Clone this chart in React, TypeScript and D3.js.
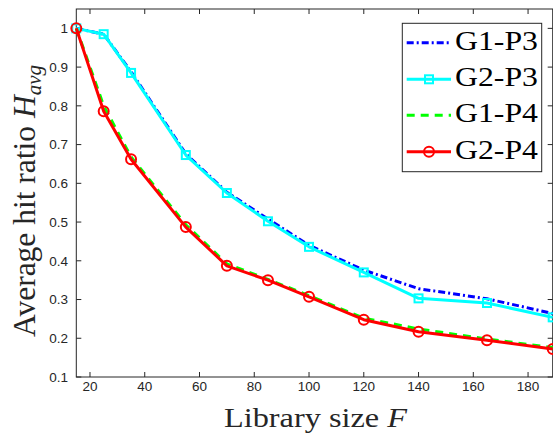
import React from "react";
import * as d3 from "d3";

const librarySize = [15, 25, 35, 55, 70, 85, 100, 120, 140, 165, 189];
const g1p3 = [1, 0.985, 0.888, 0.676, 0.577, 0.508, 0.44, 0.376, 0.328, 0.302, 0.264];
const g2p3 = [1, 0.985, 0.885, 0.673, 0.575, 0.502, 0.436, 0.37, 0.303, 0.291, 0.254];
const g1p4 = [1, 0.8, 0.668, 0.493, 0.392, 0.352, 0.31, 0.252, 0.224, 0.198, 0.176];
const g2p4 = [1, 0.786, 0.662, 0.487, 0.387, 0.35, 0.307, 0.248, 0.217, 0.195, 0.172];
const xTicks = [20, 40, 60, 80, 100, 120, 140, 160, 180];
const yTicks = [0.1, 0.2, 0.3, 0.4, 0.5, 0.6, 0.7, 0.8, 0.9, 1];
const yTickLabels = ["0.1", "0.2", "0.3", "0.4", "0.5", "0.6", "0.7", "0.8", "0.9", "1"];
const seriesNames = ["G1-P3", "G2-P3", "G1-P4", "G2-P4"];

const W = 553, H = 436;
const L = 76.3, R = 552.7, T = 9, B = 377;
const axisColor = "#262626";
const SERIF = "'Liberation Serif', 'Times New Roman', Times, serif";
const SANS = "'Liberation Sans', Arial, Helvetica, sans-serif";

export default function App() {
  const x = d3.scaleLinear().domain([15, 189]).range([L, R]);
  const y = d3.scaleLinear().domain([0.1, 1.05]).range([B, T]);
  const mk = (vals: number[]) =>
    d3.line<number>().x((_, i) => x(librarySize[i])).y((v) => y(v))(vals) || "";

  const series = [
    { name: seriesNames[0], vals: g1p3, color: "#0000ff", dash: "7,3,2,3", marker: "none" },
    { name: seriesNames[1], vals: g2p3, color: "#00ffff", dash: "", marker: "square" },
    { name: seriesNames[2], vals: g1p4, color: "#00ff00", dash: "8,6", marker: "none" },
    { name: seriesNames[3], vals: g2p4, color: "#ff0000", dash: "", marker: "circle" },
  ];

  const marker = (m: string, cx: number, cy: number, color: string, key: string) => {
    if (m === "square")
      return <rect key={key} x={cx - 4} y={cy - 4} width={8} height={8} fill="none" stroke={color} strokeWidth={2} />;
    if (m === "circle")
      return <circle key={key} cx={cx} cy={cy} r={5} fill="none" stroke={color} strokeWidth={2} />;
    return null;
  };

  const legY = [42.7, 79.3, 115.3, 151.7];

  return (
    <svg width={W} height={H} style={{ position: "absolute", left: 0, top: 0, background: "#fff" }}>
      <rect x={0} y={0} width={W} height={H} fill="#fff" />
      <rect x={L} y={T} width={R - L} height={B - T} fill="none" stroke={axisColor} strokeWidth={1} />
      {xTicks.map((t) => (
        <g key={"xt" + t}>
          <line x1={x(t)} x2={x(t)} y1={B} y2={B - 5} stroke={axisColor} />
          <line x1={x(t)} x2={x(t)} y1={T} y2={T + 5} stroke={axisColor} />
          <text x={x(t)} y={390.5} textAnchor="middle" fontFamily={SANS} fontSize={13.5} fill={axisColor}>
            {t}
          </text>
        </g>
      ))}
      {yTicks.map((t, i) => (
        <g key={"yt" + t}>
          <line x1={L} x2={L + 5} y1={y(t)} y2={y(t)} stroke={axisColor} />
          <line x1={R} x2={R - 5} y1={y(t)} y2={y(t)} stroke={axisColor} />
          <text x={68} y={y(t) + 4.8} textAnchor="end" fontFamily={SANS} fontSize={13.5} fill={axisColor}>
            {yTickLabels[i]}
          </text>
        </g>
      ))}
      <g>
        {series.map((s) => (
          <g key={s.name}>
            <path d={mk(s.vals)} fill="none" stroke={s.color} strokeWidth={3} strokeDasharray={s.dash || undefined} strokeLinejoin="round" />
            {s.vals.map((v, i) => marker(s.marker, x(librarySize[i]), y(v), s.color, s.name + i))}
          </g>
        ))}
      </g>
      <rect x={402.3} y={23.3} width={139.4} height={148.4} fill="#fff" stroke={axisColor} strokeWidth={1} />
      {series.map((s, i) => (
        <g key={"leg" + s.name}>
          <line x1={406.7} x2={451} y1={legY[i]} y2={legY[i]} stroke={s.color} strokeWidth={3} strokeDasharray={s.dash || undefined} />
          {marker(s.marker, 429, legY[i], s.color, "lm" + i)}
          <text x={455} y={legY[i] + 7} fontFamily={SERIF} fontSize={28} fill="#000" textLength={83} lengthAdjust="spacingAndGlyphs">
            {s.name}
          </text>
        </g>
      ))}
      <text x={224} y={426.7} fontFamily={SERIF} fontSize={28} fill={axisColor} textLength={183} lengthAdjust="spacingAndGlyphs">
        Library size <tspan fontStyle="italic">F</tspan>
      </text>
      <text transform="translate(35,337) rotate(-90)" fontFamily={SERIF} fontSize={31.5} fill={axisColor}>
        Average hit ratio <tspan fontStyle="italic">H</tspan>
        <tspan fontStyle="italic" fontSize={21} dy={6}>avg</tspan>
      </text>
    </svg>
  );
}
